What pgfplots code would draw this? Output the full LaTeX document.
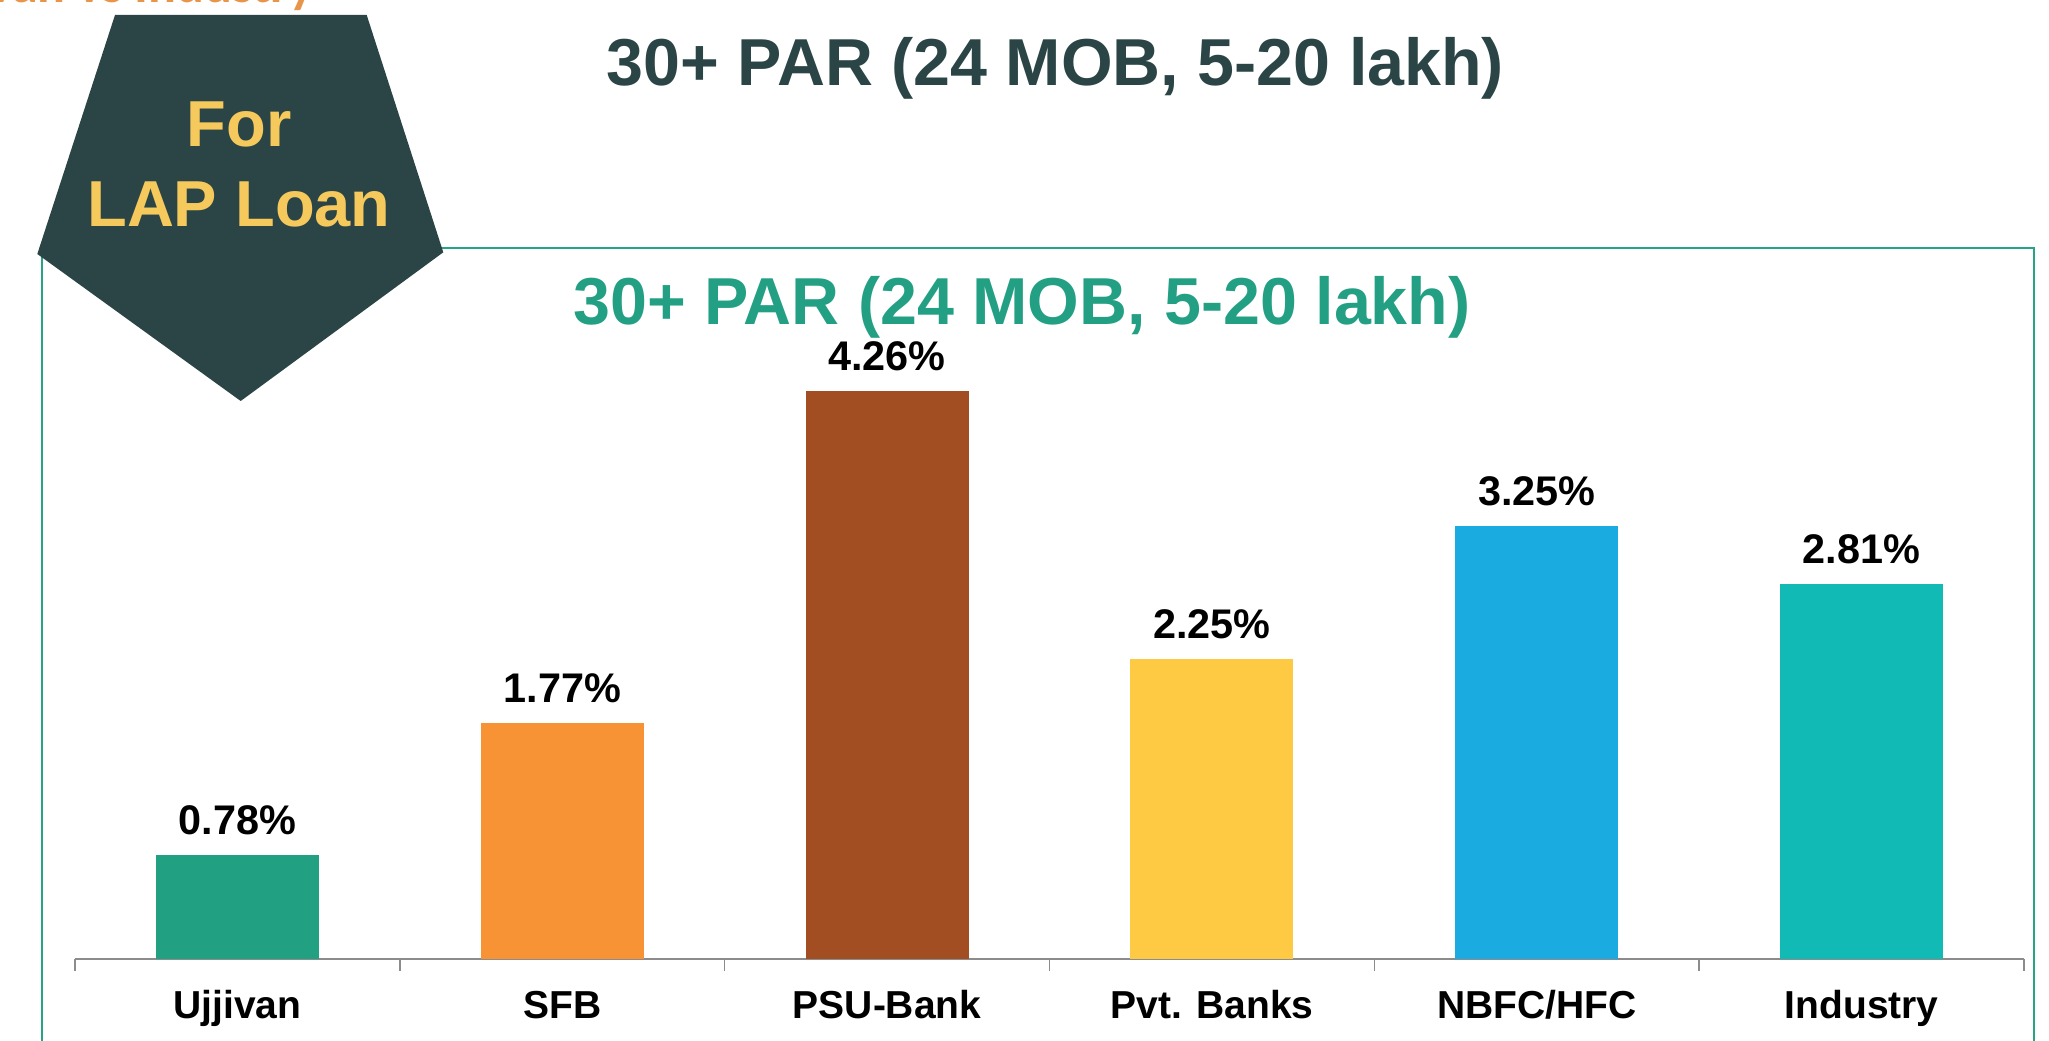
\documentclass[border=0pt]{standalone}
\usepackage{pgfplots}
\pgfplotsset{compat=1.18}
\usepackage{fontspec}
\setmainfont{Liberation Sans}
\newfontfamily\carlito{Carlito}
\definecolor{cUjj}{HTML}{22A082}
\definecolor{cSFB}{HTML}{F79335}
\definecolor{cPSU}{HTML}{A34D23}
\definecolor{cPvt}{HTML}{FEC943}
\definecolor{cNBFC}{HTML}{1AABE0}
\definecolor{cInd}{HTML}{12BAB6}
\definecolor{darkslate}{HTML}{2B4546}
\definecolor{yell}{HTML}{F6C95D}
\definecolor{greentitle}{HTML}{23A083}
\definecolor{frame}{HTML}{26A484}
\definecolor{orng}{HTML}{E8954A}
\definecolor{axgray}{HTML}{8C8C8C}
\begin{document}
\begin{tikzpicture}
\useasboundingbox (0,0) rectangle (1024.5pt,520pt);
\begin{scope}
\clip (0,0) rectangle (1024.5pt,520pt);
% cut-off heading at top
\node[anchor=base east, inner sep=0pt, text=orng, font=\carlito\bfseries\fontsize{26}{30}\selectfont] at (157pt,518.5pt) {Ujjivan vs Industry};
% frame
\draw[frame, line width=1pt] (21.15pt,-5pt) -- (21.15pt,395.85pt) -- (1017pt,395.85pt) -- (1017pt,-5pt);
\end{scope}
% pentagon
\fill[darkslate] (57.5pt,512.5pt) -- (183.35pt,512.5pt) -- (221.65pt,393.85pt) -- (120.35pt,319.5pt) -- (18.65pt,393pt) -- cycle;
\node[anchor=base, inner sep=0pt, text=yell, font=\bfseries\fontsize{32.5}{38}\selectfont] at (119.5pt,446.65pt) {For};
\node[anchor=base, inner sep=0pt, text=yell, font=\bfseries\fontsize{32.5}{38}\selectfont] at (119.5pt,406.65pt) {LAP Loan};
% titles
\node[anchor=base, inner sep=0pt, text=darkslate, font=\bfseries\fontsize{33.2}{38}\selectfont] at (527.75pt,477pt) {30+ PAR (24 MOB, 5-20 lakh)};
\node[anchor=base, inner sep=0pt, text=greentitle, font=\bfseries\fontsize{33.2}{38}\selectfont] at (511pt,357.5pt) {30+ PAR (24 MOB, 5-20 lakh)};
\begin{axis}[
  at={(37.5pt,40.5pt)}, anchor=south west,
  scale only axis, width=974.5pt, height=333.3pt,
  xmin=-0.5, xmax=5.5, ymin=0, ymax=5,
  ybar, bar width=81.5pt,
  /pgf/number format/assume math mode=true,
  axis x line*=bottom, axis y line=none,
  axis line style={draw=axgray, line width=1.3pt},
  xtick={0,1,2,3,4,5},
  xticklabels={Ujjivan,SFB,PSU-Bank,Pvt. Banks,NBFC/HFC,Industry},
  minor xtick={-0.5,0.5,1.5,2.5,3.5,4.5,5.5},
  major tick length=0pt, minor tick length=6pt, tick align=outside,
  minor tick style={draw=axgray, line width=0.7pt},
  major tick style={draw=none},
  xticklabel style={anchor=base, yshift=-29.7pt, font=\bfseries\fontsize{19.5}{22}\selectfont, text=black},
  clip=false,
  nodes near coords={\pgfmathprintnumber[fixed,precision=2,fixed zerofill]{\pgfplotspointmeta}\%},
  every node near coord/.append style={anchor=base, yshift=10.3pt, inner sep=0pt, text=black, font=\bfseries\fontsize{20.7}{24}\selectfont},
]
\addplot[fill=cUjj, draw=none, bar shift=0pt] coordinates {(0,0.78)};
\addplot[fill=cSFB, draw=none, bar shift=0pt] coordinates {(1,1.77)};
\addplot[fill=cPSU, draw=none, bar shift=0pt] coordinates {(2,4.26)};
\addplot[fill=cPvt, draw=none, bar shift=0pt] coordinates {(3,2.25)};
\addplot[fill=cNBFC, draw=none, bar shift=0pt] coordinates {(4,3.25)};
\addplot[fill=cInd, draw=none, bar shift=0pt] coordinates {(5,2.81)};
\end{axis}
\end{tikzpicture}
\end{document}
